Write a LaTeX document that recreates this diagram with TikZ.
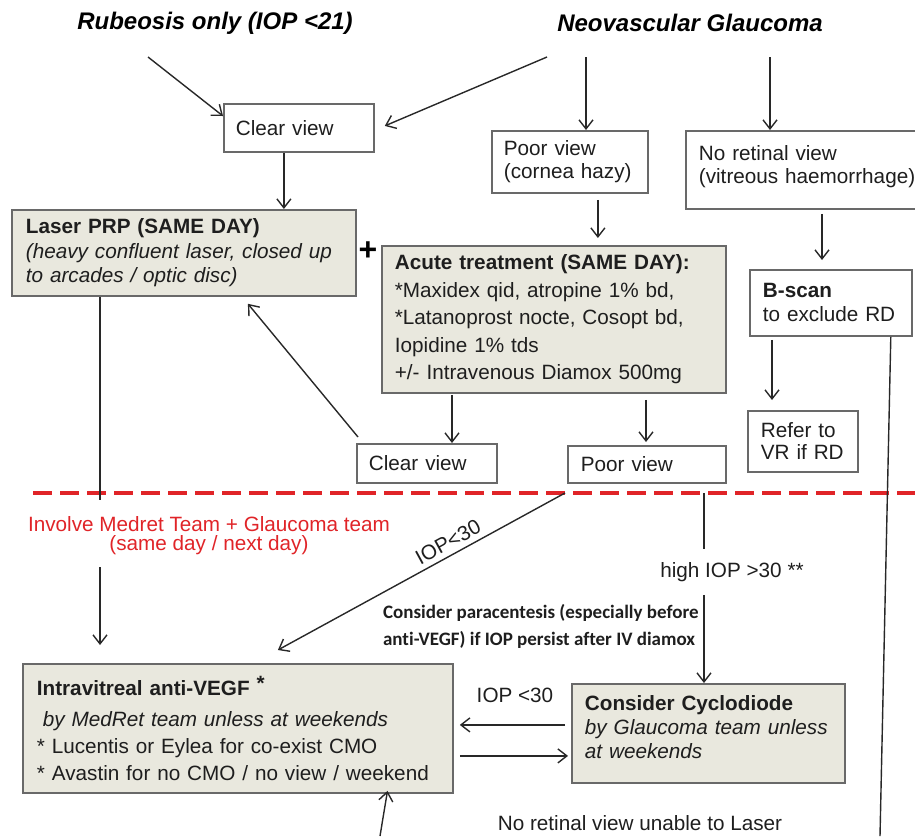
\documentclass[tikz,border=0pt]{standalone}
\usepackage{fontspec}
\setmainfont{Liberation Sans}
\newfontfamily\calibfont[Ligatures=NoCommon]{Carlito}
\usepackage{xcolor}
\usetikzlibrary{arrows.meta}

\definecolor{boxfill}{RGB}{233,232,222}
\definecolor{boxline}{RGB}{105,105,105}
\definecolor{linkgrey}{RGB}{40,40,40}
\definecolor{inkgrey}{RGB}{30,30,30}
\definecolor{teamred}{RGB}{224,36,40}

\tikzset{
	arr/.style={draw=linkgrey, line width=0.7pt, -{Straight Barb[length=4.5pt,width=7pt]}},
	link/.style={draw=linkgrey, line width=0.7pt},
	box/.style={draw=boxline, line width=0.9pt, fill=white, anchor=north west, align=left,
		inner ysep=1pt, text=inkgrey, font=\fontsize{10.35pt}{12pt}\selectfont},
	shadebox/.style={box, fill=boxfill},
	headline/.style={font=\fontsize{12pt}{14pt}\selectfont\bfseries\itshape},
	plain/.style={text=inkgrey, font=\fontsize{10.35pt}{12pt}\selectfont}
}

\begin{document}
\begin{tikzpicture}[x=0.5pt, y=-0.5pt]
				\useasboundingbox (0,0) rectangle (915,836);

				\node[headline] (rub) at (215,23) {Rubeosis only (IOP <21)};
				\node[headline] (nvg) at (690,23) {Neovascular Glaucoma};

				\node[box, inner xsep=6pt, text width=63pt, minimum height=24pt] (cv1) at (223,103) {Clear view};
				\node[box, inner xsep=6pt, text width=66pt, minimum height=31pt,
					font=\fontsize{10.35pt}{11.5pt}\selectfont] (pv1) at (491,130) {Poor view\\(cornea hazy)};
				\node[box, inner xsep=6.5pt, text width=110pt, minimum height=39pt,
					font=\fontsize{10.35pt}{11.5pt}\selectfont] (nrv) at (685,130) {No retinal view\\(vitreous haemorrhage)\\[-6pt]\mbox{}};

				\node[shadebox, inner xsep=7pt, text width=158pt, minimum height=43pt,
					font=\fontsize{10.35pt}{12.25pt}\selectfont] (prp) at (11,209)
					{\textbf{Laser PRP (SAME DAY)}\\\textit{(heavy confluent laser, closed up}\\\textit{to arcades / optic disc)}};
				\node[font=\fontsize{16pt}{16pt}\selectfont\bfseries] (plus) at (368,251) {+};
				\node[shadebox, inner xsep=6.5pt, text width=159pt, minimum height=73.5pt,
					font=\fontsize{10.35pt}{13.75pt}\selectfont] (acute) at (381,245)
					{\textbf{Acute treatment (SAME DAY):}\\{}*Maxidex qid, atropine 1\% bd,\\{}*Latanoprost nocte, Cosopt bd,\\Iopidine 1\% tds\\+/- Intravenous Diamox 500mg};

				\node[box, inner xsep=6.5pt, text width=68pt, minimum height=33pt] (bscan) at (749,269) {\textbf{B-scan}\\to exclude RD};
				\node[box, inner xsep=6.5pt, text width=42pt, minimum height=30.5pt,
					font=\fontsize{10.35pt}{11pt}\selectfont] (refer) at (747,410) {Refer to\\VR if RD};

				\node[box, inner xsep=6pt, text width=58pt, minimum height=19.5pt] (cv2) at (356,443) {Clear view};
				\node[box, inner xsep=6.5pt, text width=66pt, minimum height=18.5pt] (pv2) at (567,445) {Poor view};

				\draw[teamred, line width=2.2pt, dash pattern=on 9.5pt off 4pt] (33,493) -- (915,493);

				\node[plain, text=teamred, align=center, font=\fontsize{10.35pt}{9.5pt}\selectfont] (team) at (209,536)
					{Involve Medret Team + Glaucoma team\\(same day / next day)};

				\node[plain, rotate=28.6] (iopdiag) at (448,542) {IOP<30};
				\node[plain, text height=7.5pt, text depth=2.5pt, inner ysep=6.25pt] (hiop) at (732,572) {high IOP >30 **};
				\node[anchor=west, align=left, text=inkgrey,
					font=\fontsize{9.5pt}{13.5pt}\selectfont\calibfont\bfseries] (para) at (376,626)
					{Consider paracentesis (especially before\\anti-VEGF) if IOP persist after IV diamox};

				\node[shadebox, inner xsep=7pt, text width=201pt, minimum height=64.5pt,
					font=\fontsize{10.35pt}{13.5pt}\selectfont] (ivt) at (22,663)
					{\textbf{Intravitreal anti-VEGF \raisebox{2.5pt}{*}}\\[2pt]
					\hspace*{3pt}\textit{by MedRet team unless at weekends}\\{}* Lucentis or Eylea for co-exist CMO\\{}* Avastin for no CMO / no view / weekend};
				\node[plain] (iopleft) at (515,695) {IOP <30};
				\node[shadebox, inner xsep=6.5pt, text width=123.5pt, minimum height=49.5pt] (cyc) at (571,683)
					{\textbf{Consider Cyclodiode}\\\textit{by Glaucoma team unless}\\\textit{at weekends}\\[-6pt]\mbox{}};

				\node[plain] (nolaser) at (640,823) {No retinal view unable to Laser};

				\coordinate (rubfoot) at (148,57);
				\coordinate (nvgleft) at (547,57);
				\coordinate (nvgmid) at (586,57);
				\coordinate (nvgright) at (770,57);
				\coordinate (teamtop) at (100,500);
				\coordinate (teambot) at (100,567);
				\coordinate (iopfork) at (565,493);
				\coordinate (hifork) at (704,493);
				\coordinate (rdfoot) at (880,836);
				\coordinate (laserfoot) at (380,836);

				\draw[arr] (rubfoot) -- ([yshift=-6.5pt]cv1.north west);
				\draw[arr] (nvgleft) -- ([xshift=5pt,yshift=1pt]cv1.east);
				\draw[arr] (nvgmid) -- (nvgmid |- pv1.north);
				\draw[arr] (nvgright) -- (nvgright |- nrv.north);

				\draw[arr] ([xshift=-7.5pt]cv1.south) -- ([xshift=-7.5pt]cv1.south |- prp.north);
				\draw[arr, shorten >=3.5pt] ([xshift=14pt,yshift=-3pt]pv1.south) -- ([xshift=14pt]pv1.south |- acute.north);
				\draw[arr, shorten >=4.5pt] ([xshift=68.5pt,yshift=-2pt]nrv.south west) -- ([xshift=68.5pt]nrv.south west |- bscan.north);
				\draw[arr, shorten >=5pt] ([xshift=11.5pt,yshift=-1.5pt]bscan.south west) -- ([xshift=11.5pt]bscan.south west |- refer.north);
				\draw[link] ([xshift=-11pt]bscan.south east) -- (rdfoot);

				\draw[arr] ([xshift=35.5pt,yshift=-0.5pt]acute.south west) -- ([xshift=35.5pt]acute.south west |- cv2.north);
				\draw[arr, shorten >=1.5pt] ([xshift=132.5pt,yshift=-3pt]acute.south west) -- ([xshift=132.5pt]acute.south west |- pv2.north);
				\draw[arr] ([xshift=1pt,yshift=3pt]cv2.north west) -- ([xshift=32pt,yshift=-3.5pt]prp.south);

				\draw[link] ([xshift=44.5pt]prp.south west) -- (teamtop);
				\draw[arr, shorten >=9pt] (teambot) -- (teambot |- ivt.north);
				\draw[arr] (iopfork) -- ([xshift=20pt,yshift=6.5pt]ivt.north);
				\draw[link] (hifork) -- (hifork |- hiop.north);
				\draw[arr] (hifork |- hiop.south) -- (hifork |- cyc.north);

				\draw[arr, shorten <=3pt, shorten >=3pt] ([yshift=4.25pt]cyc.west) -- ([yshift=4.25pt]cyc.west -| ivt.east);
				\draw[arr, shorten <=3pt, shorten >=1.5pt] ([yshift=-11.25pt]cyc.west -| ivt.east) -- ([yshift=-11.25pt]cyc.west);
				\draw[arr, shorten >=-1.5pt] (laserfoot) -- ([xshift=182.5pt]ivt.south west);
			\end{tikzpicture}
\end{document}
